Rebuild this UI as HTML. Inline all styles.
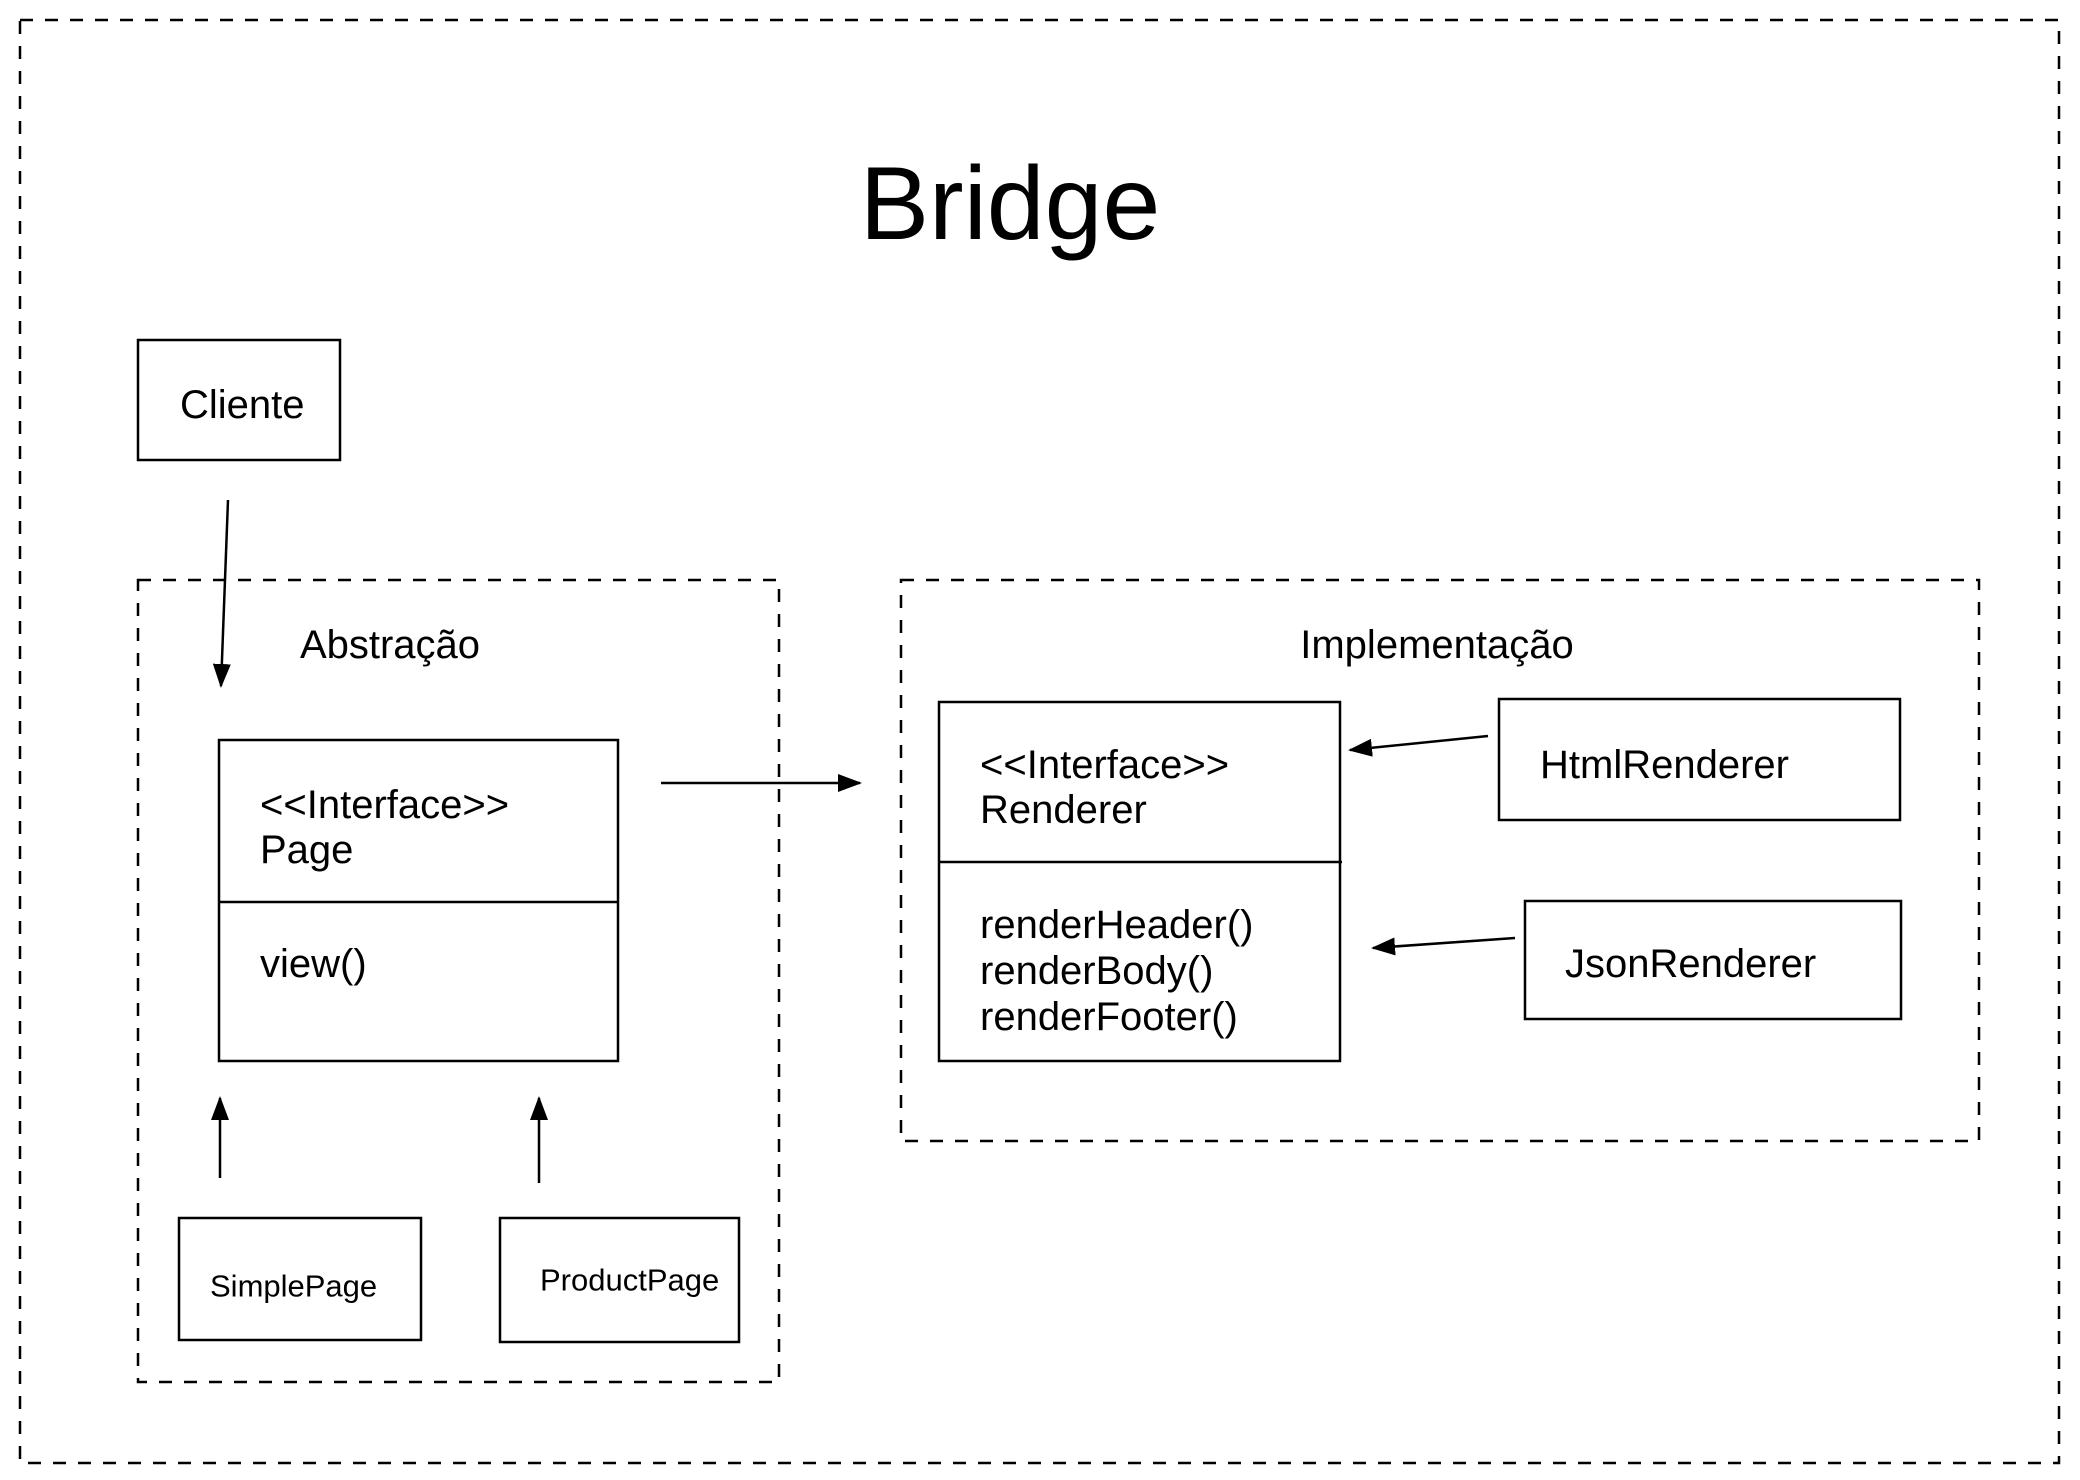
<!DOCTYPE html>
<html><head><meta charset="utf-8"><style>
html,body{margin:0;padding:0;background:#fff;}
svg{display:block;}
text{font-family:"Liberation Sans",Arial,sans-serif;fill:#000;}
</style></head><body>
<svg width="2080" height="1480" viewBox="0 0 2080 1480" xmlns="http://www.w3.org/2000/svg">
<defs>
<marker id="ah" markerWidth="24" markerHeight="18" refX="22" refY="9" orient="auto" markerUnits="userSpaceOnUse" viewBox="0 0 24 18">
<path d="M0,0 L24,9 L0,18 z" fill="#000"/>
</marker>
</defs>
<g fill="none" stroke="#000" stroke-width="2.5">
<rect x="20" y="20" width="2039" height="1443" stroke-dasharray="13 12"/>
<rect x="138" y="580" width="641" height="802" stroke-dasharray="13 12"/>
<rect x="901" y="580" width="1078" height="561" stroke-dasharray="13 12"/>
<rect x="138" y="340" width="202" height="120"/>
<rect x="219" y="740" width="399" height="321"/>
<line x1="219" y1="902" x2="618" y2="902"/>
<rect x="179" y="1218" width="242" height="122"/>
<rect x="500" y="1218" width="239" height="124"/>
<rect x="939" y="702" width="401" height="359"/>
<line x1="939" y1="862" x2="1342" y2="862"/>
<rect x="1499" y="699" width="401" height="121"/>
<rect x="1525" y="901" width="376" height="118"/>
</g>
<g stroke="#000" stroke-width="2.5" fill="none">
<line x1="228" y1="500" x2="221" y2="686" marker-end="url(#ah)"/>
<line x1="661" y1="783" x2="860" y2="783" marker-end="url(#ah)"/>
<line x1="220" y1="1178" x2="220" y2="1098" marker-end="url(#ah)"/>
<line x1="539" y1="1183" x2="539" y2="1098" marker-end="url(#ah)"/>
<line x1="1488" y1="736" x2="1350" y2="750" marker-end="url(#ah)"/>
<line x1="1515" y1="938" x2="1373" y2="948" marker-end="url(#ah)"/>
</g>
<text x="1010" y="239" font-size="104" text-anchor="middle">Bridge</text>
<g font-size="40" dominant-baseline="central">
<text x="180" y="405">Cliente</text>
<text x="390" y="645" text-anchor="middle">Abstração</text>
<text x="1437" y="645" text-anchor="middle">Implementação</text>
<text x="260" y="805">&lt;&lt;Interface&gt;&gt;</text>
<text x="260" y="850">Page</text>
<text x="260" y="964">view()</text>
<text x="210" y="1286" font-size="31">SimplePage</text>
<text x="540" y="1280" font-size="31">ProductPage</text>
<text x="980" y="765">&lt;&lt;Interface&gt;&gt;</text>
<text x="980" y="810">Renderer</text>
<text x="980" y="925">renderHeader()</text>
<text x="980" y="971">renderBody()</text>
<text x="980" y="1017">renderFooter()</text>
<text x="1540" y="765">HtmlRenderer</text>
<text x="1565" y="964">JsonRenderer</text>
</g>
</svg>
</body></html>
